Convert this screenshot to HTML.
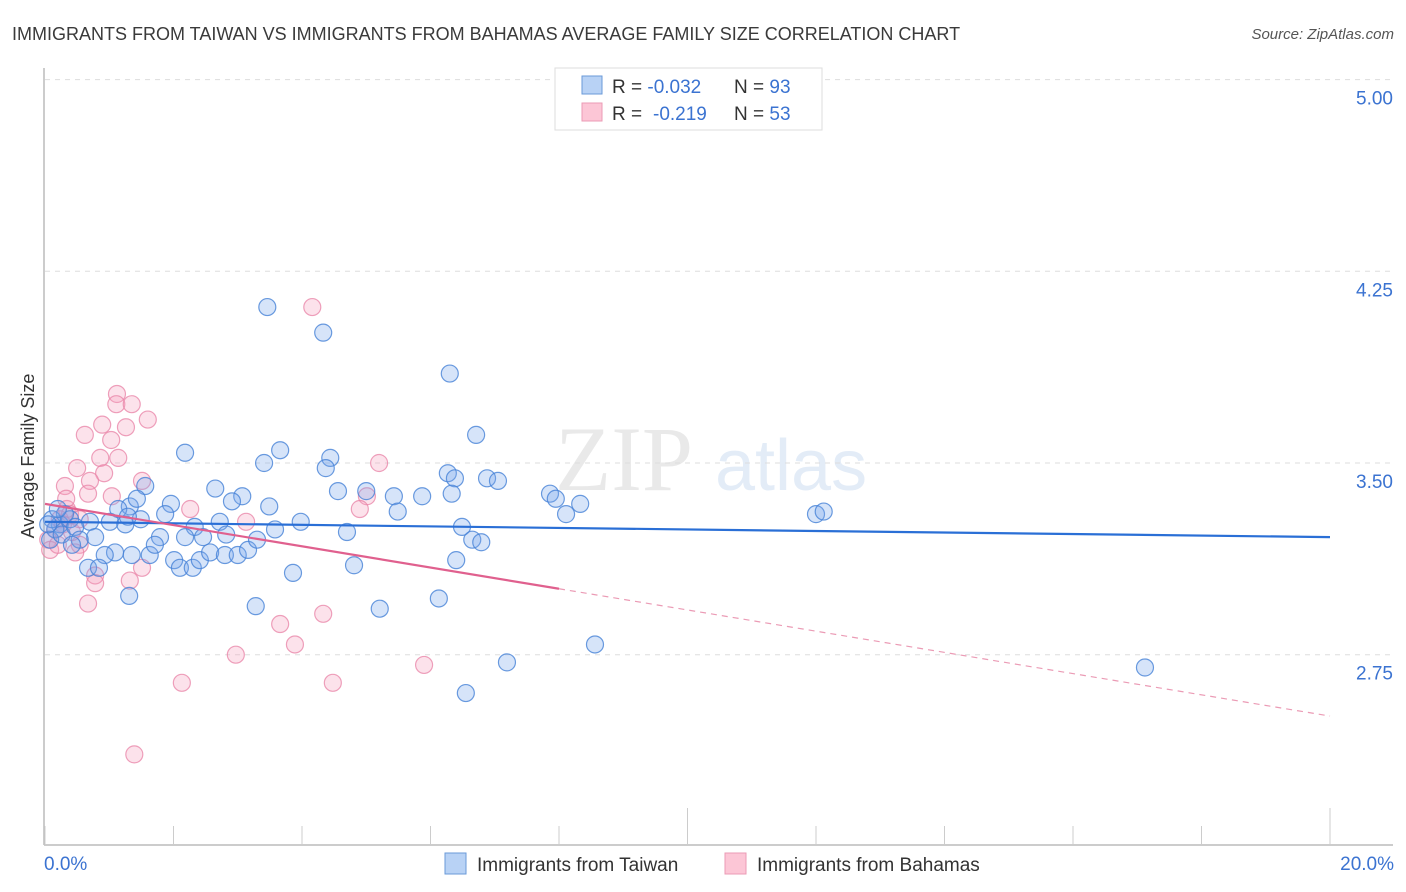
<!DOCTYPE html>
<html><head><meta charset="utf-8"><style>
body{margin:0;background:#fff;font-family:"Liberation Sans",sans-serif;}
svg{display:block}
</style></head><body>
<svg id="chart" width="1406" height="892" xmlns="http://www.w3.org/2000/svg">
<text x="12" y="40" font-size="18" fill="#3a3a3a">IMMIGRANTS FROM TAIWAN VS IMMIGRANTS FROM BAHAMAS AVERAGE FAMILY SIZE CORRELATION CHART</text>
<text x="1394" y="39" font-size="15" fill="#555" font-style="italic" text-anchor="end">Source: ZipAtlas.com</text>
<g opacity="0.18">
<text x="555" y="490" font-size="92" font-family="Liberation Serif,serif" fill="#888">ZIP</text>
<text x="715" y="490" font-size="72" fill="#6a9ad8">atlas</text>
</g>
<g id="grid"></g>
<g id="axes"></g>
<g id="marks"></g>
<text transform="translate(34,456) rotate(-90)" font-size="18" fill="#333" text-anchor="middle">Average Family Size</text>
<g>
<rect x="555" y="68" width="267" height="62" fill="#fff" stroke="#ddd"/>
<rect x="582" y="76" width="20" height="18" fill="#b8d2f5" stroke="#6a9ad8"/>
<rect x="582" y="103" width="20" height="18" fill="#fcc6d6" stroke="#eb9bb5"/>
<text x="612" y="93" font-size="19" fill="#333">R = <tspan fill="#3b73d1">-0.032</tspan><tspan x="734">N = </tspan><tspan fill="#3b73d1">93</tspan></text>
<text x="612" y="120" font-size="19" fill="#333">R = <tspan x="653" fill="#3b73d1">-0.219</tspan><tspan x="734">N = </tspan><tspan fill="#3b73d1">53</tspan></text>
</g>
<g>
<rect x="445" y="853" width="21" height="21" fill="#b8d2f5" stroke="#6a9ad8"/>
<text x="477" y="871" font-size="19" fill="#333">Immigrants from Taiwan</text>
<rect x="725" y="853" width="21" height="21" fill="#fcc6d6" stroke="#eb9bb5"/>
<text x="757" y="871" font-size="19" fill="#333">Immigrants from Bahamas</text>
</g>
</svg>
<script>
const yTicks=[5.00,4.25,3.50,2.75];
const xTickLabels=["0.0%","20.0%"];
const taiwanX=[3.46,4.33,6.30,6.71,2.18,3.66,3.41,4.44,4.37,6.27,6.38,6.88,7.05,2.65,1.56,3.07,2.91,3.49,1.96,1.87,1.32,1.14,1.43,4.56,5.00,5.43,5.87,6.33,7.86,7.95,8.33,8.11,5.49,12.00,12.12,0.70,1.01,1.25,1.49,1.29,3.98,3.58,2.72,2.33,2.46,2.82,1.79,2.18,6.49,6.65,6.79,4.70,0.78,1.09,1.35,0.93,1.63,1.71,2.01,2.10,2.30,2.41,2.57,2.80,3.00,3.16,3.30,4.81,3.86,6.40,0.67,0.84,1.31,3.28,5.21,6.13,8.56,7.19,6.55,17.12,0.23,0.39,0.16,0.08,0.26,0.47,0.54,0.31,0.11,0.42,0.20,0.05];
const taiwanY=[4.11,4.01,3.85,3.61,3.54,3.55,3.50,3.52,3.48,3.46,3.44,3.44,3.43,3.40,3.41,3.37,3.35,3.33,3.34,3.30,3.33,3.32,3.36,3.39,3.39,3.37,3.37,3.38,3.38,3.36,3.34,3.30,3.31,3.30,3.31,3.27,3.27,3.26,3.28,3.29,3.27,3.24,3.27,3.25,3.21,3.22,3.21,3.21,3.25,3.20,3.19,3.23,3.21,3.15,3.14,3.14,3.14,3.18,3.12,3.09,3.09,3.12,3.15,3.14,3.14,3.16,3.20,3.10,3.07,3.12,3.09,3.09,2.98,2.94,2.93,2.97,2.79,2.72,2.60,2.70,3.26,3.28,3.24,3.20,3.22,3.25,3.20,3.30,3.28,3.18,3.32,3.26];
const bahamasX=[4.16,1.12,1.11,1.35,0.89,1.26,1.60,0.62,1.03,0.86,1.14,0.50,0.92,5.20,1.51,0.70,0.31,1.04,5.01,0.67,0.34,4.90,2.26,3.13,0.23,0.16,0.05,0.39,0.54,0.47,1.51,1.32,0.78,0.78,0.67,4.33,3.66,3.89,2.97,5.90,4.48,2.13,1.39,0.08,0.28,0.42,0.20,0.33,0.54];
const bahamasY=[4.11,3.77,3.73,3.73,3.65,3.64,3.67,3.61,3.59,3.52,3.52,3.48,3.46,3.50,3.43,3.43,3.41,3.37,3.37,3.38,3.32,3.32,3.32,3.27,3.28,3.24,3.20,3.30,3.18,3.15,3.09,3.04,3.06,3.03,2.95,2.91,2.87,2.79,2.75,2.71,2.64,2.64,2.36,3.16,3.26,3.23,3.18,3.36,3.28];
const taiwanTrend=[3.27,3.21];
const bahamasTrend=[3.34,2.51];
const bahamasSolidEnd=8;

const NS="http://www.w3.org/2000/svg";
const X0=45,X1=1330,XMAX=20;
const xs=v=>X0+(v/XMAX)*(X1-X0);
const ys=v=>463-(v-3.5)*255.6;
function mk(tag,attrs,parent){const e=document.createElementNS(NS,tag);for(const k in attrs)e.setAttribute(k,attrs[k]);parent.appendChild(e);return e;}
const grid=document.getElementById('grid'),axes=document.getElementById('axes'),marks=document.getElementById('marks');
yTicks.forEach(t=>{
 const l=mk('line',{x1:45,x2:1393,y1:ys(t),y2:ys(t),stroke:'#ddd','stroke-dasharray':'5,5'},grid);
 
 
 const tx=mk('text',{x:1393,y:ys(t)+25,'font-size':19,fill:'#3b73d1','text-anchor':'end'},axes);
 tx.textContent=t.toFixed(2);
 
 
});
const al=mk('line',{x1:44,x2:1393,y1:845,y2:845,stroke:'#bbb','stroke-width':1.5},axes);


const yl=mk('line',{x1:44,x2:44,y1:68,y2:845,stroke:'#bbb','stroke-width':1.5},axes);


for(let i=0;i<=10;i++){
 const v=i*2;const big=(i===5||i===10);
 const t=mk('line',{x1:xs(v),x2:xs(v),y1:big?808:826,y2:845,stroke:'#ccc'},axes);
 
 
}
xTickLabels.forEach((s,i)=>{
 const t=mk('text',{x:i?1394:44,y:870,'font-size':19,fill:'#3b73d1','text-anchor':i?'end':'start'},axes);
 t.textContent=s;
 
 
});
function pts(X,Y,fill,stroke,name){
 X.forEach((x,i)=>{
  const c=mk('circle',{cx:xs(x),cy:ys(Y[i]),r:8.5,fill:fill,stroke:stroke,'stroke-width':1.2},marks);
  
  
 });
}
pts(bahamasX,bahamasY,'rgba(244,160,188,0.3)','rgba(232,130,165,0.75)','bahamas-point');
pts(taiwanX,taiwanY,'rgba(120,165,235,0.3)','rgba(70,130,215,0.8)','taiwan-point');
const tl=mk('line',{x1:xs(0),y1:ys(taiwanTrend[0]),x2:xs(20),y2:ys(taiwanTrend[1]),stroke:'#2a6fd6','stroke-width':2.2},marks);


const bm=bahamasTrend[0]+(bahamasTrend[1]-bahamasTrend[0])*bahamasSolidEnd/20;
const bl=mk('line',{x1:xs(0),y1:ys(bahamasTrend[0]),x2:xs(bahamasSolidEnd),y2:ys(bm),stroke:'#e0608e','stroke-width':2.2},marks);


const bd=mk('line',{x1:xs(bahamasSolidEnd),y1:ys(bm),x2:xs(20),y2:ys(bahamasTrend[1]),stroke:'#eb9bb5','stroke-width':1.2,'stroke-dasharray':'6,5'},marks);


</script>
</body></html>
